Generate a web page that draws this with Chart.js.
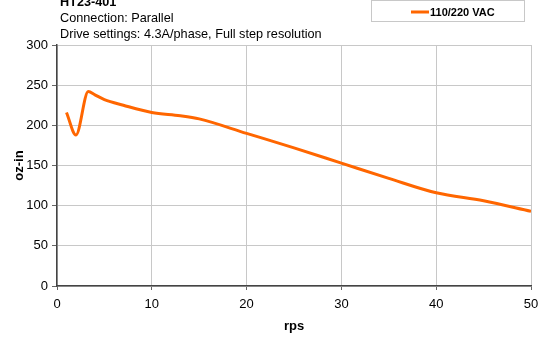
<!DOCTYPE html>
<html lang="en">
<head>
  <meta charset="UTF-8" />
  <title>HT23-401 torque curve</title>
  <script src="https://cdn.jsdelivr.net/npm/chart.js@4"></script>
  <style>
    body { margin: 0; background: #fff; }
    #wrap { width: 539px; height: 342px; }
  </style>
</head>
<body>
  <div id="wrap"><canvas id="torqueChart" width="539" height="342"></canvas></div>

  <script>
    // speed (rps) and torque (oz-in)
    const speedRps = [1, 2, 3.3, 4, 5, 7, 10, 13, 15, 20, 25, 30, 35, 40, 45, 50];
    const torqueOzIn = [216, 188, 242, 238, 232, 225, 216, 212, 208, 190, 172, 153, 134, 116, 106, 93];
    const xTicks = [0, 10, 20, 30, 40, 50];
    const yTicks = [0, 50, 100, 150, 200, 250, 300];

    const seriesLabel = '110/220 VAC';
    const headingLines = ['HT23-401', 'Connection: Parallel', 'Drive settings: 4.3A/phase, Full step resolution'];

    const FONT = "'Liberation Sans', Arial, sans-serif";
    const ORANGE = '#ff6600';

    // headings + legend box, drawn on top of the canvas
    const decorations = {
      id: 'decorations',
      afterDraw(chart) {
        const c = chart.ctx;
        c.save();
        c.textBaseline = 'alphabetic';
        c.textAlign = 'left';
        c.fillStyle = '#000';
        c.font = 'bold 12.7px ' + FONT;
        c.fillText(headingLines[0], 60, 6);
        c.font = '12.7px ' + FONT;
        c.fillText(headingLines[1], 60, 22);
        c.fillText(headingLines[2], 60, 38);

        // legend
        c.strokeStyle = '#c8c8c8';
        c.lineWidth = 1;
        c.strokeRect(371.5, 0.5, 153, 21);
        c.strokeStyle = ORANGE;
        c.lineWidth = 3;
        c.beginPath();
        c.moveTo(411, 12);
        c.lineTo(429, 12);
        c.stroke();
        c.font = 'bold 11px ' + FONT;
        c.fillStyle = '#000';
        c.fillText(seriesLabel, 430, 16);
        c.restore();
      }
    };

    new Chart(document.getElementById('torqueChart'), {
      type: 'line',
      data: {
        datasets: [{
          label: seriesLabel,
          data: speedRps.map((x, i) => ({ x: x, y: torqueOzIn[i] })),
          borderColor: ORANGE,
          borderWidth: 3,
          pointRadius: 0,
          cubicInterpolationMode: 'monotone',
          fill: false
        }]
      },
      options: {
        responsive: false,
        animation: false,
        layout: { padding: { top: 45, right: 0, left: 12, bottom: 4 } },
        plugins: {
          legend: { display: false },
          tooltip: { enabled: false }
        },
        scales: {
          x: {
            type: 'linear',
            min: 0, max: 50,
            afterBuildTicks: s => { s.ticks = xTicks.map(v => ({ value: v })); },
            afterFit: s => { s.height = 52; s.paddingRight = 8; },
            grid: { color: '#c8c8c8', lineWidth: 1, tickLength: 4, tickColor: '#666' },
            border: { color: '#444', width: 1.5 },
            ticks: { color: '#000', font: { family: FONT, size: 13 }, padding: 7, maxRotation: 0 },
            title: { display: true, text: 'rps', color: '#000', font: { family: FONT, size: 13, weight: 'bold' }, padding: { top: 4 } }
          },
          y: {
            min: 0, max: 300,
            afterBuildTicks: s => { s.ticks = yTicks.map(v => ({ value: v })); },
            afterFit: s => { s.width = 45; },
            grid: { color: '#c8c8c8', lineWidth: 1, tickLength: 5, tickColor: '#666' },
            border: { color: '#444', width: 1.5 },
            ticks: { color: '#000', font: { family: FONT, size: 13 }, padding: 4 },
            title: { display: true, text: 'oz-in', color: '#000', font: { family: FONT, size: 13, weight: 'bold' }, padding: { top: 0, bottom: 0 } }
          }
        }
      },
      plugins: [decorations]
    });
  </script>
</body>
</html>
